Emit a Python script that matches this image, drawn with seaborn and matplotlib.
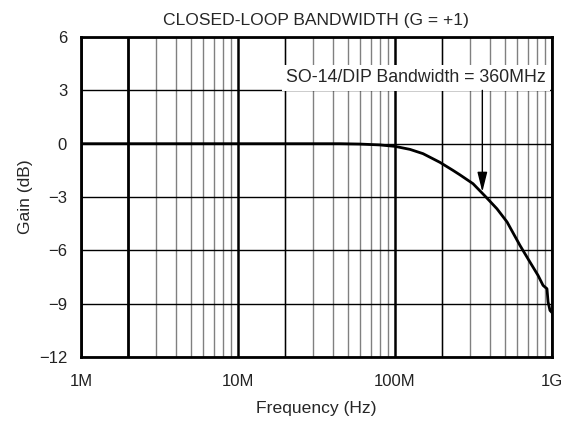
import matplotlib
matplotlib.use('Agg')
import matplotlib.pyplot as plt
import seaborn as sns
import numpy as np
import pandas as pd
from matplotlib.ticker import FixedLocator, NullFormatter

# Closed-loop gain response (G = +1)
freq_hz = [1e6, 1e7, 3e7, 4.46e7, 5.99e7, 8.02e7, 1e8, 1.246e8, 1.508e8, 1.934e8,
           2.34e8, 2.59e8, 3.14e8, 3.74e8, 4.46e8, 5.17e8, 6.25e8, 7.24e8,
           8.15e8, 8.77e8, 9.29e8, 9.44e8, 9.71e8, 1e9]
gain_db = [0.0, 0.0, 0.0, 0.0, -0.02, -0.07, -0.15, -0.32, -0.56, -1.05,
           -1.5, -1.75, -2.25, -2.94, -3.66, -4.4, -5.72, -6.66,
           -7.41, -7.97, -8.16, -8.9, -9.38, -9.5]

x_ticks = [1e6, 1e7, 1e8, 1e9]
x_labels = ["1M", "10M", "100M", "1G"]
y_ticks = [-12, -9, -6, -3, 0, 3, 6]
y_labels = ["\u221212", "\u22129", "\u22126", "\u22123", "0", "3", "6"]

bw_freq = 3.6e8
bw_text = "SO-14/DIP Bandwidth = 360MHz"

df = pd.DataFrame({"freq": freq_hz, "gain": gain_db})

sns.set_theme(style="white")
plt.rcParams['font.family'] = ['Liberation Sans', 'DejaVu Sans']

fig = plt.figure(figsize=(5.84, 4.21), dpi=100)
ax = fig.add_axes([0.1387, 0.152, 0.8065, 0.760])

ax.set_xscale('log')
ax.set_xlim(1e6, 1e9)
ax.set_ylim(-12, 6)

# Grid: gray minor lines, black decade and horizontal lines
minor = [m * 10 ** d for d in range(6, 9) for m in range(2, 10)]
ax.xaxis.set_major_locator(FixedLocator(x_ticks))
ax.xaxis.set_minor_locator(FixedLocator(minor))
ax.xaxis.set_minor_formatter(NullFormatter())
ax.set_xticklabels(x_labels)
ax.set_yticks(y_ticks)
ax.set_yticklabels(y_labels)
ax.grid(which='minor', axis='x', color='#808080', lw=1.0)
ax.grid(which='major', axis='x', color='black', lw=1.8)
ax.grid(which='major', axis='y', color='black', lw=1.0)
for f, w in [(2e6, 2.0), (2e7, 1.0), (2e8, 1.0)]:
    ax.axvline(f, color='black', lw=w, zorder=1)

sns.lineplot(data=df, x="freq", y="gain", color='black', lw=2.0, ax=ax, zorder=3)

for s in ax.spines.values():
    s.set_color('black')
    s.set_linewidth(2.0)
    s.set_zorder(4)

ax.tick_params(axis='both', length=0, labelsize=12, colors='#222222')
ax.tick_params(axis='x', pad=12)
ax.tick_params(axis='y', pad=10)

# bandwidth callout: label with white box, arrow down to the curve
ax.text(0.711, 0.873, bw_text, transform=ax.transAxes, ha='center', va='center',
        fontsize=12.8, zorder=5,
        bbox=dict(boxstyle='square,pad=0.25', fc='white', ec='none'))
bw_gain = np.interp(np.log10(bw_freq), np.log10(freq_hz), gain_db)
ax.annotate('', xy=(bw_freq, bw_gain), xytext=(bw_freq, 3.0),
            arrowprops=dict(arrowstyle='-|>,head_length=1.2,head_width=0.3',
                            color='black', lw=1.0, shrinkA=0, shrinkB=1,
                            mutation_scale=10),
            zorder=5)

ax.set_title("CLOSED-LOOP BANDWIDTH (G = +1)", fontsize=12.6, pad=9)
ax.set_xlabel("Frequency (Hz)", fontsize=12.6, labelpad=9)
ax.set_ylabel("Gain (dB)", fontsize=12.6, labelpad=4)

fig.savefig("out.png", dpi=100)
plt.close(fig)
